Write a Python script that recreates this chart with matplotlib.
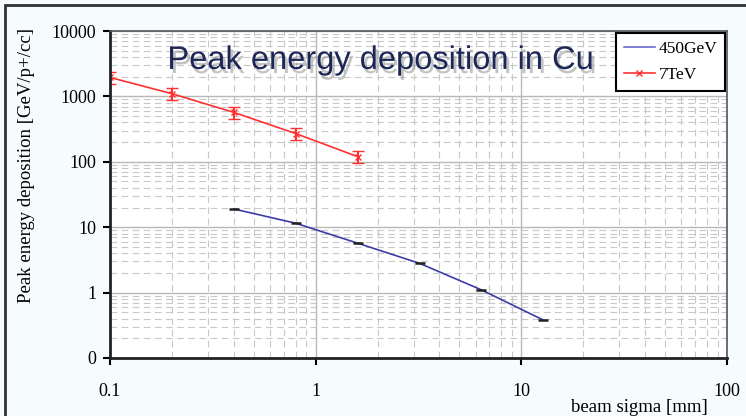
import numpy as np
import matplotlib
matplotlib.use("Agg")
import matplotlib.pyplot as plt
import matplotlib.patheffects as pe
from matplotlib.lines import Line2D
from matplotlib.ticker import LogLocator, FixedLocator, NullFormatter

# beam sigma [mm]
sigma_450 = [0.4, 0.8, 1.6, 3.2, 6.4, 12.8]
edep_450 = [19, 11.5, 5.7, 2.8, 1.1, 0.38]

sigma_7t = [0.1, 0.2, 0.4, 0.8, 1.6]
edep_7t = [1950, 1100, 570, 270, 120]
err_7t = [380, 230, 120, 55, 25]

xticks = [0.1, 1, 10, 100]
xticklabels = ["0.1", "1", "10", "100"]
yticks = [0.1, 1, 10, 100, 1000, 10000]
yticklabels = ["0", "1", "10", "100", "1000", "10000"]

plt.rcParams['font.family'] = ['Liberation Serif', 'DejaVu Serif']

fig = plt.figure(figsize=(7.46, 4.16), dpi=100)
fig.patch.set_facecolor('#f6fbfd')
ax = fig.add_axes([110/746, 58/416, 617/746, 327/416])
ax.set_facecolor('white')

# frame around the picture (cut off on right/bottom as in the screenshot)
fig.patches.append(plt.Rectangle((5/746, -0.05), 1.2, (411/416) + 0.05,
                                 transform=fig.transFigure, fill=False,
                                 edgecolor='#333333', lw=2.0))

ax.set_xscale('log')
ax.set_yscale('log')
ax.set_xlim(0.1, 100)
ax.set_ylim(0.1, 10000)

ax.xaxis.set_major_locator(FixedLocator(xticks))
ax.set_xticklabels(xticklabels)
ax.yaxis.set_major_locator(FixedLocator(yticks))
ax.set_yticklabels(yticklabels)
ax.xaxis.set_minor_locator(LogLocator(base=10, subs=np.arange(2, 10)))
ax.yaxis.set_minor_locator(LogLocator(base=10, subs=np.arange(2, 10)))
ax.xaxis.set_minor_formatter(NullFormatter())
ax.yaxis.set_minor_formatter(NullFormatter())

ax.grid(True, which='major', color='#b8b8b8', lw=1.0, ls='-')
ax.grid(True, which='minor', color='#c8c8c8', lw=0.8, ls=(0, (6, 4)))
ax.set_axisbelow(True)

ax.tick_params(which='major', direction='out', length=5, width=1.5,
               labelsize=13, colors='black', pad=13)
ax.tick_params(axis='y', which='major', pad=5)
ax.tick_params(which='minor', length=0)

for side in ['left', 'bottom']:
    ax.spines[side].set_color('#222222')
    ax.spines[side].set_linewidth(2.0)
for side in ['right', 'top']:
    ax.spines[side].set_color('#555555')
    ax.spines[side].set_linewidth(1.2)

ax.plot(sigma_450, edep_450, color='#3c3ca8', lw=1.2, marker='_',
        markersize=7, markeredgecolor='#222222', markeredgewidth=1.8)
ax.errorbar(sigma_7t, edep_7t, yerr=err_7t, color='#ff3030', lw=1.2,
            marker='x', markersize=4, capsize=4, elinewidth=1.5)

handles = [Line2D([], [], color='#6a6ad0', lw=1.2),
           Line2D([], [], color='#ff3030', lw=1.2, marker='x', markersize=4)]
leg = ax.legend(handles, ['450GeV', '7TeV'], loc='upper right',
                bbox_to_anchor=(0.997, 0.995), fontsize=12.5, frameon=True,
                fancybox=False, edgecolor='black', handlelength=1.8,
                handletextpad=0.2, borderpad=0.45, labelspacing=0.6,
                borderaxespad=0.0)
leg.get_frame().set_linewidth(1.5)
leg.get_frame().set_facecolor('white')
leg.get_frame().set_alpha(1)

ax.text(0.093, 0.91, 'Peak energy deposition in Cu', transform=ax.transAxes,
        fontsize=23.5, family='Liberation Sans', color='#1c2758', va='center',
        path_effects=[pe.SimplePatchShadow(offset=(2, -3), shadow_rgbFace='#888888',
                                           alpha=0.5), pe.Normal()])

ax.set_ylabel('Peak energy deposition [GeV/p+/cc]', fontsize=13.5)
ax.yaxis.set_label_coords(-0.122, 0.59)
ax.set_xlabel('beam sigma [mm]', fontsize=13.5)
ax.xaxis.set_label_coords(0.858, -0.124)

fig.savefig('out.png', dpi=100, facecolor=fig.get_facecolor())
